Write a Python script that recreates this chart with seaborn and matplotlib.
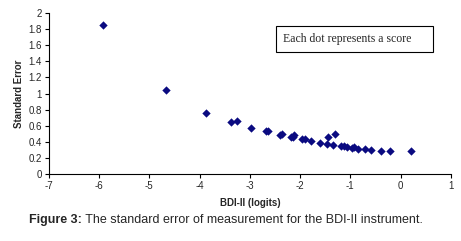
import numpy as np
import pandas as pd
import seaborn as sns
import matplotlib.pyplot as plt
from matplotlib.patches import Rectangle

# Values
bdi_logits = [-5.92, -4.66, -3.87, -3.38, -3.26, -2.98, -2.68, -2.64, -2.40, -2.37,
              -2.18, -2.13, -2.15, -1.97, -1.91, -1.79, -1.61, -1.47, -1.44, -1.34,
              -1.30, -1.19, -1.12, -1.07, -0.97, -0.92, -0.85, -0.70, -0.59, -0.40,
              -0.22, 0.21]
std_error = [1.855, 1.04, 0.76, 0.65, 0.66, 0.575, 0.533, 0.533, 0.49, 0.50,
             0.46, 0.49, 0.46, 0.44, 0.44, 0.41, 0.385, 0.37, 0.46, 0.355,
             0.50, 0.345, 0.345, 0.33, 0.325, 0.335, 0.315, 0.315, 0.30, 0.29,
             0.29, 0.29]
x_ticks = list(range(-7, 2))
y_ticks = [0, 0.2, 0.4, 0.6, 0.8, 1, 1.2, 1.4, 1.6, 1.8, 2]

df = pd.DataFrame({'BDI': bdi_logits, 'SE': std_error})

sns.set_style('white')
plt.rcParams['font.family'] = ['Liberation Sans', 'DejaVu Sans']

fig = plt.figure(figsize=(4.61, 2.41), dpi=100)
ax = fig.add_axes([0.106, 0.278, 0.872, 0.668])

sns.scatterplot(data=df, x='BDI', y='SE', marker='D', s=18, color='#0a0a80',
                edgecolor='#0a0a80', linewidth=0, ax=ax)

ax.set_xlim(-7, 1)
ax.set_ylim(0, 2)
ax.set_xticks(x_ticks)
ax.set_xticklabels([str(t) for t in x_ticks])
ax.set_yticks(y_ticks)
ax.set_yticklabels([f'{t:g}' for t in y_ticks])
ax.tick_params(axis='both', direction='out', length=3, width=0.8, labelsize=7,
               color='black', left=True, bottom=True, pad=2)
for side in ['top', 'right']:
    ax.spines[side].set_visible(False)
for side in ['left', 'bottom']:
    ax.spines[side].set_color('black')
    ax.spines[side].set_linewidth(0.8)

ax.set_xlabel('BDI-II (logits)', fontsize=7, fontweight='bold', labelpad=5)
ax.set_ylabel('Standard Error', fontsize=7, fontweight='bold', labelpad=3)

# Note box
ax.add_patch(Rectangle((0.565, 0.758), 0.39, 0.161, transform=ax.transAxes,
                       facecolor='white', edgecolor='black', linewidth=0.8, zorder=3))
ax.text(0.582, 0.839, 'Each dot represents a score', transform=ax.transAxes,
        fontsize=8.5, family='Liberation Serif', va='center', ha='left', zorder=4)

# Caption with bold "Figure 3:"
cap_y = 0.087
bold = fig.text(0.063, cap_y, 'Figure 3:', ha='left', va='center', fontsize=9,
                fontweight='bold')
fig.canvas.draw()
bb = bold.get_window_extent(renderer=fig.canvas.get_renderer())
x_next = fig.transFigure.inverted().transform((bb.x1, bb.y0))[0]
fig.text(x_next, cap_y, ' The standard error of measurement for the BDI-II instrument.',
         ha='left', va='center', fontsize=9)

fig.savefig('out.png', dpi=100)
